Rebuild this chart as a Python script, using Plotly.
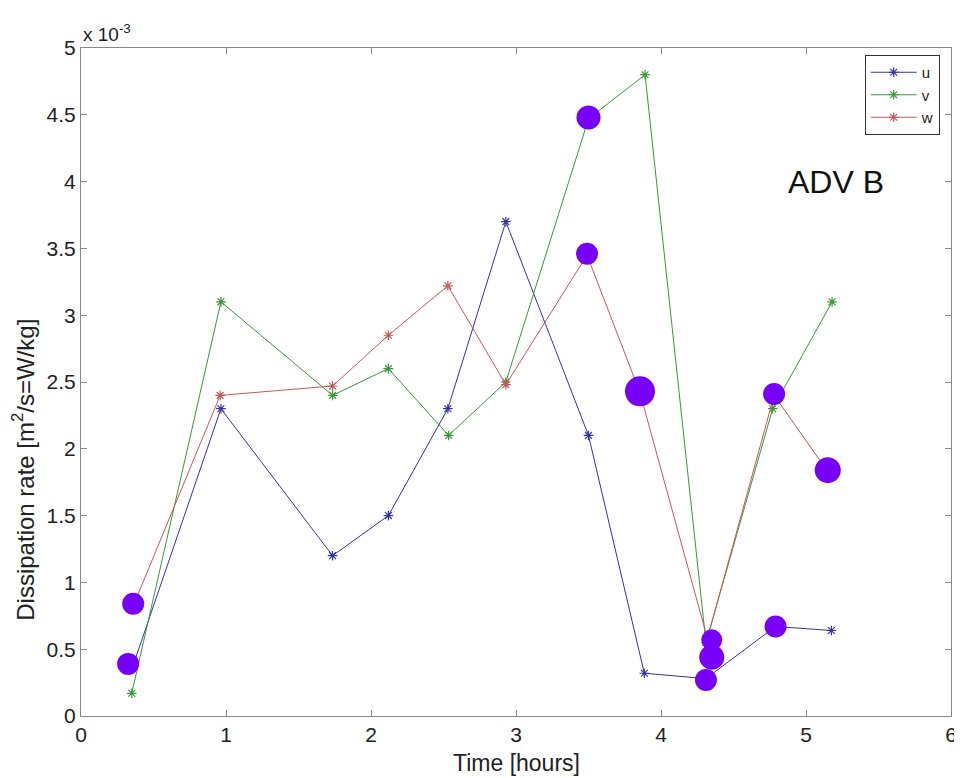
import plotly.graph_objects as go

SCALE = 1e-3  # values below are in units of 10^-3 W/kg

# u component (blue)
u_time = [0.36, 0.965, 1.735, 2.12, 2.53, 2.93, 3.50, 3.885, 4.31, 4.79, 5.175]
u_vals = [0.38, 2.30, 1.20, 1.50, 2.30, 3.70, 2.10, 0.32, 0.28, 0.67, 0.64]

# v component (green)
v_time = [0.35, 0.965, 1.735, 2.12, 2.535, 2.93, 3.50, 3.89, 4.31, 4.77, 5.18]
v_vals = [0.17, 3.10, 2.40, 2.60, 2.10, 2.50, 4.47, 4.80, 0.55, 2.30, 3.10]

# w component (red)
w_time = [0.37, 0.96, 1.735, 2.12, 2.53, 2.93, 3.49, 3.855, 4.32, 4.78, 5.15]
w_vals = [0.85, 2.40, 2.47, 2.85, 3.22, 2.48, 3.45, 2.42, 0.58, 2.40, 1.83]

# highlighted points (purple dots)
dot_time = [0.325, 0.36, 3.50, 3.49, 3.855, 4.31, 4.35, 4.35, 4.79, 4.78, 5.15]
dot_vals = [0.39, 0.84, 4.48, 3.46, 2.43, 0.27, 0.57, 0.44, 0.67, 2.41, 1.84]
dot_size = [22, 22, 24, 22, 30, 22, 21, 25, 22, 22, 26]

x_ticks = [0, 1, 2, 3, 4, 5, 6]
y_ticks = [0, 0.5, 1, 1.5, 2, 2.5, 3, 3.5, 4, 4.5, 5]
y_tick_text = ["0", "0.5", "1", "1.5", "2", "2.5", "3", "3.5", "4", "4.5", "5"]

FONT = "Liberation Sans, Arial, sans-serif"

fig = go.Figure()

series = [
    ("u", u_time, u_vals, "#34349e"),
    ("v", v_time, v_vals, "#3c963c"),
    ("w", w_time, w_vals, "#c65858"),
]
for name, t, vals, col in series:
    fig.add_trace(go.Scatter(
        x=t, y=[v * SCALE for v in vals], name=name,
        mode="lines+markers",
        line=dict(color=col, width=1),
        marker=dict(symbol="asterisk-open", size=8, color=col,
                    line=dict(color=col, width=1.2)),
    ))

fig.add_trace(go.Scatter(
    x=dot_time, y=[v * SCALE for v in dot_vals],
    mode="markers", showlegend=False, hoverinfo="skip",
    marker=dict(symbol="circle", size=dot_size, color="#7800f8",
                opacity=1, line=dict(width=0)),
))

axis_common = dict(
    showgrid=False, zeroline=False, showline=True, linecolor="#888888",
    linewidth=1, mirror="allticks", ticks="inside", ticklen=6,
    tickcolor="#888888", automargin=False,
    tickfont=dict(family=FONT, size=21, color="#222222"),
)

fig.update_layout(
    width=954, height=770,
    margin=dict(l=73, r=11, t=40, b=62),
    paper_bgcolor="white", plot_bgcolor="white",
    font=dict(family=FONT, color="#222222"),
    xaxis=dict(range=[0, 6], tickvals=x_ticks, **axis_common),
    yaxis=dict(range=[0, 5 * SCALE], tickvals=[v * SCALE for v in y_ticks],
               ticktext=y_tick_text, **axis_common),
    legend=dict(x=0.987, y=0.9895, xanchor="right", yanchor="top",
                bgcolor="white", bordercolor="#333333", borderwidth=1,
                font=dict(family=FONT, size=15, color="#222222"),
                itemwidth=46, tracegroupgap=0),
    showlegend=True,
    annotations=[
        dict(text="ADV B", x=0.868, y=0.80, xref="paper", yref="paper",
             xanchor="center", yanchor="middle",
             showarrow=False, font=dict(family=FONT, size=32, color="#111111")),
        dict(text="x 10<sup>-3</sup>", x=0, y=1.0, xref="paper", yref="paper",
             xanchor="left", yanchor="bottom", yshift=1, showarrow=False,
             font=dict(family=FONT, size=19, color="#222222")),
        dict(text="Time [hours]", x=0.5, y=-0.0704, xref="paper", yref="paper",
             xanchor="center", yanchor="middle", showarrow=False,
             font=dict(family=FONT, size=23, color="#222222")),
        dict(text="Dissipation rate [m<sup>2</sup>/s=W/kg]", textangle=-90,
             x=-0.066, y=0.139, xref="paper", yref="paper",
             xanchor="center", yanchor="bottom", showarrow=False,
             font=dict(family=FONT, size=24, color="#222222")),
    ],
)

fig.write_html("out.html")
